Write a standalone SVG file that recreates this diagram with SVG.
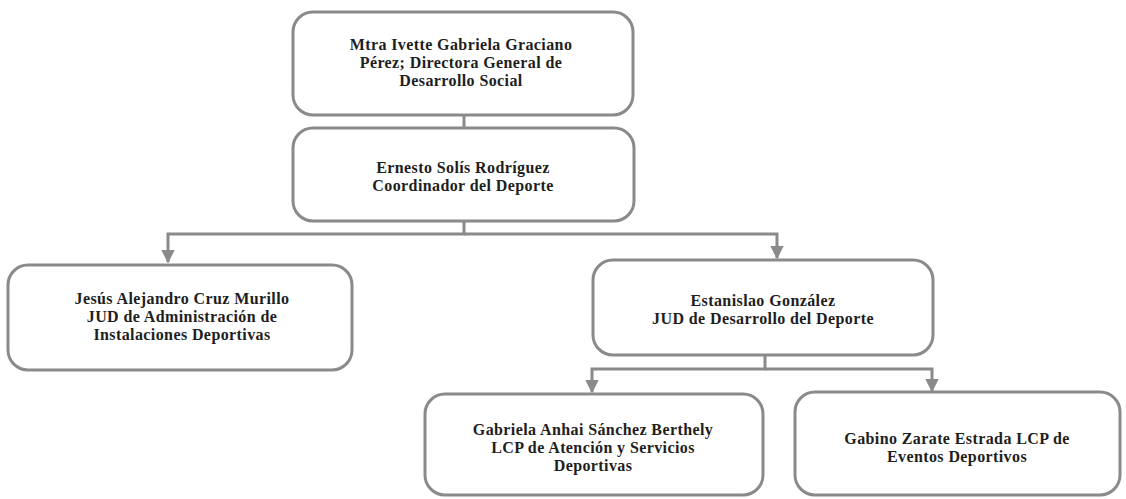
<svg xmlns="http://www.w3.org/2000/svg" width="1126" height="499" viewBox="0 0 1126 499">
<style>
.box{fill:#ffffff;stroke:#8a8a8a;stroke-width:3}
.lbl{font-family:"Liberation Serif","Times New Roman",serif;font-weight:bold;font-size:16px;letter-spacing:0.4px;fill:#1e1e1e;text-anchor:middle}
.con{fill:none;stroke:#8a8a8a;stroke-width:3}
</style>
<defs>
<marker id="arr" viewBox="0 0 10 10" refX="9" refY="5" markerWidth="4.5" markerHeight="4.5" orient="auto" markerUnits="strokeWidth">
<path d="M0,0 L10,5 L0,10 z" fill="#8a8a8a"/>
</marker>
</defs>
<rect width="1126" height="499" fill="#ffffff"/>
<g id="connectors">
<line class="con" x1="464" y1="115" x2="464" y2="128"/>
<polyline class="con" points="464,221 464,234 168,234 168,262" marker-end="url(#arr)"/>
<polyline class="con" points="464,234 777,234 777,258" marker-end="url(#arr)"/>
<polyline class="con" points="765,355 765,369 592,369 592,392" marker-end="url(#arr)"/>
<polyline class="con" points="765,369 932,369 932,391" marker-end="url(#arr)"/>
</g>
<g id="n1">
<rect class="box" x="293" y="12" width="340" height="103" rx="20"/>
<text class="lbl" x="461" y="50">Mtra Ivette Gabriela Graciano</text>
<text class="lbl" x="461" y="68">Pérez; Directora General de</text>
<text class="lbl" x="461" y="86">Desarrollo Social</text>
</g>
<g id="n2">
<rect class="box" x="293" y="128" width="341" height="93" rx="20"/>
<text class="lbl" x="463" y="173">Ernesto Solís Rodríguez</text>
<text class="lbl" x="463" y="191">Coordinador del Deporte</text>
</g>
<g id="n3">
<rect class="box" x="8" y="265" width="344" height="105" rx="20"/>
<text class="lbl" x="182" y="304">Jesús Alejandro Cruz Murillo</text>
<text class="lbl" x="182" y="322">JUD de Administración de</text>
<text class="lbl" x="182" y="340">Instalaciones Deportivas</text>
</g>
<g id="n4">
<rect class="box" x="593" y="260" width="340" height="95" rx="20"/>
<text class="lbl" x="763" y="306">Estanislao González</text>
<text class="lbl" x="763" y="324">JUD de Desarrollo del Deporte</text>
</g>
<g id="n5">
<rect class="box" x="425" y="394" width="338" height="101" rx="20"/>
<text class="lbl" x="593" y="435">Gabriela Anhai Sánchez Berthely</text>
<text class="lbl" x="593" y="453">LCP de Atención y Servicios</text>
<text class="lbl" x="593" y="471">Deportivas</text>
</g>
<g id="n6">
<rect class="box" x="795" y="392" width="325" height="103" rx="20"/>
<text class="lbl" x="957" y="444">Gabino Zarate Estrada LCP de</text>
<text class="lbl" x="957" y="462">Eventos Deportivos</text>
</g>
</svg>
